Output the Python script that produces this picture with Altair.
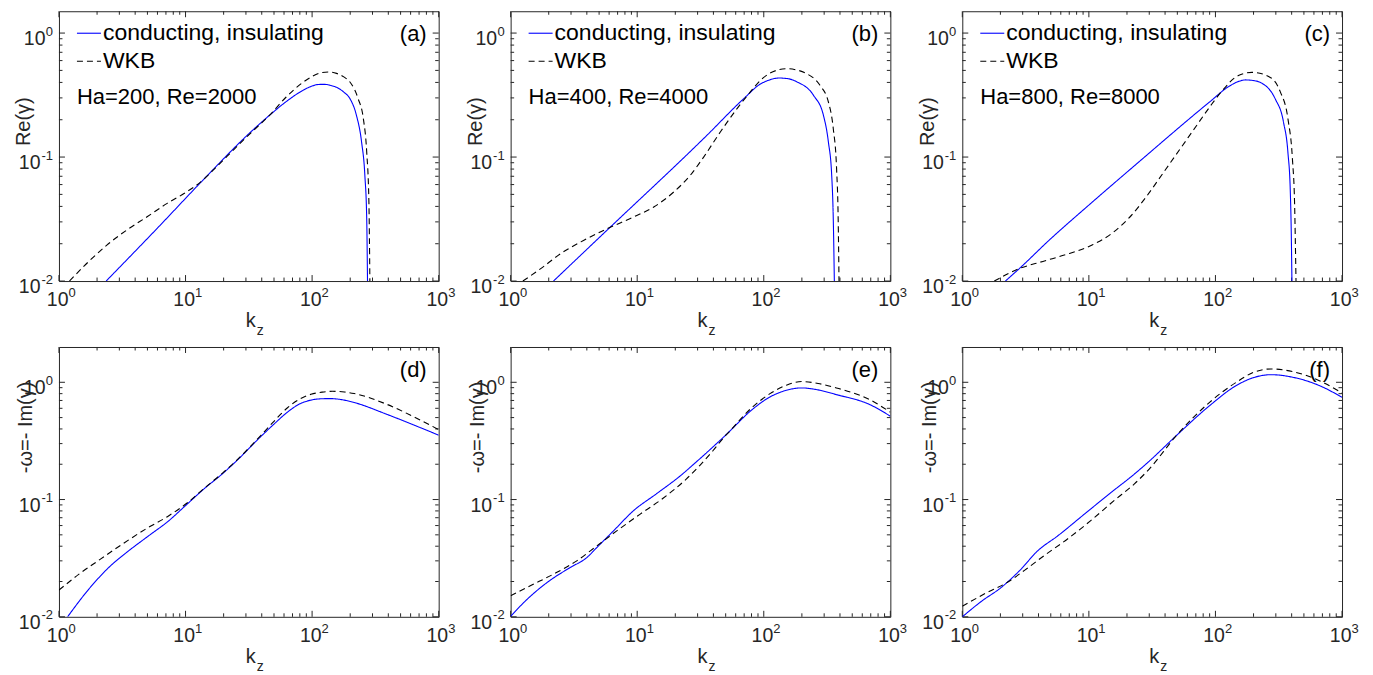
import altair as alt
import pandas as pd

FONT = "Liberation Sans"
INK = "#262626"
BLUE = "#0000ff"
W, H = 380, 270
SERIES = ["conducting, insulating", "WKB"]

# ---------------- data ----------------
# (a) Ha=200, Re=2000 : Re(gamma)
A_COND_K = [2.36, 5.97, 13.2, 32.9, 46.0, 62.4, 84.5, 100, 112, 125, 138, 156, 178, 199, 224, 246, 261, 270, 274]
A_COND_V = [0.0100, 0.0266, 0.0625, 0.160, 0.217, 0.280, 0.345, 0.374, 0.385, 0.386, 0.380, 0.365, 0.334, 0.296, 0.217, 0.132, 0.0714, 0.0320, 0.0100]
A_WKB_K = [1.21, 1.71, 2.39, 3.44, 4.97, 7.16, 9.73, 13.2, 17.9, 24.3, 32.9, 46.0, 62.4, 84.5, 100, 118, 135, 156, 178, 199, 231, 254, 270, 281, 286]
A_WKB_V = [0.0100, 0.0143, 0.0195, 0.0258, 0.0330, 0.0423, 0.0508, 0.0631, 0.0850, 0.116, 0.157, 0.217, 0.305, 0.400, 0.447, 0.479, 0.486, 0.473, 0.443, 0.403, 0.296, 0.204, 0.110, 0.0435, 0.0100]

# (b) Ha=400, Re=4000 : Re(gamma)
B_COND_K = [2.18, 5.82, 35.6, 69.5, 94.0, 112, 131, 155, 182, 247, 296, 324, 344, 354, 361]
B_COND_V = [0.0100, 0.0259, 0.150, 0.296, 0.388, 0.420, 0.434, 0.429, 0.405, 0.315, 0.217, 0.132, 0.0714, 0.0320, 0.0100]
B_WKB_K = [1.25, 1.74, 2.50, 3.59, 5.82, 9.44, 13.6, 19.5, 26.3, 33.5, 45.5, 61.5, 78.3, 95, 112, 130, 152, 180, 219, 278, 324, 354, 376, 387, 393]
B_WKB_V = [0.0100, 0.01265, 0.0167, 0.0207, 0.0265, 0.0330, 0.0397, 0.0524, 0.0714, 0.100, 0.160, 0.246, 0.335, 0.420, 0.475, 0.505, 0.516, 0.505, 0.470, 0.379, 0.278, 0.170, 0.0807, 0.0320, 0.0100]

# (c) Ha=800, Re=8000 : Re(gamma)
C_COND_K = [2.19, 2.82, 5.01, 10.0, 25.1, 90.2, 127, 150, 172, 200, 233, 296, 345, 374, 390, 397, 402]
C_COND_V = [0.0100, 0.0126, 0.0220, 0.0410, 0.0922, 0.279, 0.370, 0.405, 0.419, 0.414, 0.394, 0.296, 0.191, 0.108, 0.0541, 0.0254, 0.0100]
C_WKB_K = [1.79, 2.82, 4.33, 7.03, 10.8, 15.5, 21.0, 28.4, 38.5, 52.2, 70.8, 90.2, 112, 152, 194, 263, 325, 374, 406, 422, 433]
C_WKB_V = [0.0100, 0.0126, 0.0144, 0.0167, 0.0197, 0.0246, 0.0327, 0.0478, 0.0741, 0.115, 0.179, 0.254, 0.339, 0.455, 0.482, 0.447, 0.337, 0.203, 0.0953, 0.0421, 0.0100]

# (d) Ha=200, Re=2000 : -omega = -Im(gamma)
D_COND_K = [1.17, 1.72, 2.47, 3.55, 5.09, 7.33, 9.91, 14.2, 19.2, 25.2, 39.6, 50.0, 64.3, 80.0, 98.0, 120, 141, 170, 215, 393, 718, 1000]
D_COND_V = [0.0100, 0.0172, 0.0263, 0.0365, 0.0489, 0.0656, 0.0880, 0.125, 0.163, 0.213, 0.347, 0.440, 0.560, 0.655, 0.705, 0.724, 0.726, 0.712, 0.672, 0.531, 0.410, 0.354]
D_WKB_K = [1.0, 1.44, 2.06, 3.15, 4.80, 7.33, 10.5, 14.2, 19.2, 25.2, 39.6, 50.0, 64.3, 80.0, 98.0, 120, 145, 180, 215, 393, 718, 1000]
D_WKB_V = [0.0169, 0.0231, 0.0303, 0.0415, 0.0557, 0.0724, 0.0950, 0.126, 0.165, 0.215, 0.355, 0.465, 0.610, 0.720, 0.790, 0.825, 0.838, 0.826, 0.802, 0.646, 0.475, 0.395]

# (e) Ha=400, Re=4000 : -omega
E_COND_K = [1.0, 1.35, 1.99, 2.95, 4.00, 4.79, 6.49, 9.31, 14.2, 21.7, 29.4, 39.8, 48.0, 54.1, 79.4, 112, 151, 199, 269, 375, 687, 1000]
E_COND_V = [0.0101, 0.0141, 0.0200, 0.0263, 0.0320, 0.0389, 0.0540, 0.0800, 0.112, 0.158, 0.210, 0.282, 0.340, 0.385, 0.575, 0.750, 0.855, 0.895, 0.861, 0.785, 0.646, 0.514]
E_WKB_K = [1.0, 1.43, 2.18, 3.33, 4.79, 6.89, 10.5, 16.1, 24.5, 31.3, 39.8, 48.0, 54.1, 79.4, 112, 151, 199, 269, 375, 687, 1000]
E_WKB_V = [0.0151, 0.0184, 0.0231, 0.0300, 0.0402, 0.0540, 0.0748, 0.103, 0.150, 0.196, 0.262, 0.335, 0.385, 0.600, 0.800, 0.945, 1.015, 0.977, 0.895, 0.711, 0.556]

# (f) Ha=800, Re=8000 : -omega
F_COND_K = [1.0, 1.41, 2.03, 2.83, 3.95, 5.69, 9.23, 15.0, 22.9, 29.2, 49.1, 89.9, 146, 200, 275, 408, 662, 1000]
F_COND_V = [0.0100, 0.0135, 0.0178, 0.0247, 0.0366, 0.0491, 0.0752, 0.115, 0.165, 0.207, 0.351, 0.632, 0.938, 1.096, 1.161, 1.104, 0.938, 0.745]
F_WKB_K = [1.0, 1.50, 2.29, 3.10, 4.46, 6.82, 10.4, 15.9, 22.9, 30.1, 49.1, 89.9, 146, 200, 275, 408, 662, 1000]
F_WKB_V = [0.0123, 0.0157, 0.0198, 0.0249, 0.0334, 0.0463, 0.0664, 0.0984, 0.136, 0.183, 0.351, 0.675, 1.0, 1.216, 1.300, 1.233, 1.033, 0.811]

# axis ticks and their labels (10^e)
X_MAJOR = [1, 10, 100, 1000]
X_EXP = ["0", "1", "2", "3"]
X_MINOR = [m * d for d in (1, 10, 100) for m in range(2, 10)]
Y_MAJOR = [0.01, 0.1, 1]
Y_EXP = ["-2", "-1", "0"]
Y_MINOR = [m * d for d in (0.01, 0.1) for m in range(2, 10)]

PANELS = [
    dict(tag="(a)", note="Ha=200, Re=2000", ytitle="Re(\u03b3)", ymax=1.5, ty=110, tx=-35,
         ck=A_COND_K, cv=A_COND_V, wk=A_WKB_K, wv=A_WKB_V, legend=True),
    dict(tag="(b)", note="Ha=400, Re=4000", ytitle="Re(\u03b3)", ymax=1.5, ty=110, tx=-35,
         ck=B_COND_K, cv=B_COND_V, wk=B_WKB_K, wv=B_WKB_V, legend=True),
    dict(tag="(c)", note="Ha=800, Re=8000", ytitle="Re(\u03b3)", ymax=1.5, ty=110, tx=-35,
         ck=C_COND_K, cv=C_COND_V, wk=C_WKB_K, wv=C_WKB_V, legend=True),
    dict(tag="(d)", note=None, ytitle="-\u03c9=- Im(\u03b3)", ymax=2.0, ty=80, tx=-33,
         ck=D_COND_K, cv=D_COND_V, wk=D_WKB_K, wv=D_WKB_V, legend=False),
    dict(tag="(e)", note=None, ytitle="-\u03c9=- Im(\u03b3)", ymax=2.0, ty=80, tx=-33,
         ck=E_COND_K, cv=E_COND_V, wk=E_WKB_K, wv=E_WKB_V, legend=False),
    dict(tag="(f)", note=None, ytitle="-\u03c9=- Im(\u03b3)", ymax=2.0, ty=80, tx=-33,
         ck=F_COND_K, cv=F_COND_V, wk=F_WKB_K, wv=F_WKB_V, legend=False),
]


def one_text(txt):
    return alt.Chart(pd.DataFrame({"t": [txt]}))


def make_panel(p):
    df = pd.concat([
        pd.DataFrame({"kz": p["ck"], "val": p["cv"], "series": SERIES[0]}),
        pd.DataFrame({"kz": p["wk"], "val": p["wv"], "series": SERIES[1]}),
    ], ignore_index=True)

    xs = alt.Scale(type="log", domain=[1, 1000], nice=False)
    ys = alt.Scale(type="log", domain=[0.01, p["ymax"]], nice=False)
    xaxis = alt.Axis(values=X_MAJOR, labels=False, tickSize=0, domain=False, grid=False, title=None)
    yaxis = alt.Axis(values=Y_MAJOR, labels=False, tickSize=0, domain=False, grid=False,
                     title=p["ytitle"], titleFont=FONT, titleFontSize=20, titleFontWeight="normal",
                     titleColor=INK, titleX=p["tx"], titleY=p["ty"], titleAngle=270,
                     titleAlign="center", titleBaseline="middle")
    X = lambda f: alt.X(f, scale=xs, axis=xaxis)
    Y = lambda f: alt.Y(f, scale=ys, axis=yaxis)

    layers = []
    # inward tick marks on all four sides
    for vals, ln in ((X_MAJOR, 6), (X_MINOR, 3.5)):
        tdf = pd.DataFrame({"t": vals})
        layers.append(alt.Chart(tdf).mark_rule(color=INK, strokeWidth=1).encode(
            x=X("t:Q"), y=alt.value(H), y2=alt.value(H - ln)))
        layers.append(alt.Chart(tdf).mark_rule(color=INK, strokeWidth=1).encode(
            x=X("t:Q"), y=alt.value(0), y2=alt.value(ln)))
    for vals, ln in ((Y_MAJOR, 6), (Y_MINOR, 3.5)):
        tdf = pd.DataFrame({"t": vals})
        layers.append(alt.Chart(tdf).mark_rule(color=INK, strokeWidth=1).encode(
            y=Y("t:Q"), x=alt.value(0), x2=alt.value(ln)))
        layers.append(alt.Chart(tdf).mark_rule(color=INK, strokeWidth=1).encode(
            y=Y("t:Q"), x=alt.value(W), x2=alt.value(W - ln)))

    # tick labels 10^e  (base and raised exponent)
    xl = pd.DataFrame({"t": X_MAJOR, "e": X_EXP})
    layers.append(alt.Chart(xl).mark_text(align="right", baseline="alphabetic", dx=9.5, font=FONT,
                                          fontSize=19.5, color=INK)
                  .encode(x=X("t:Q"), y=alt.value(H + 25), text=alt.value("10")))
    layers.append(alt.Chart(xl).mark_text(align="left", baseline="alphabetic", dx=9.5, font=FONT,
                                          fontSize=13, color=INK)
                  .encode(x=X("t:Q"), y=alt.value(H + 16), text="e:N"))
    yl = pd.DataFrame({"t": Y_MAJOR, "e": Y_EXP})
    yl_pos = yl[yl["t"] >= 1]
    yl_neg = yl[yl["t"] < 1]
    layers.append(alt.Chart(yl_pos).mark_text(align="right", baseline="alphabetic", dy=12, font=FONT,
                                              fontSize=19.5, color=INK)
                  .encode(y=Y("t:Q"), x=alt.value(-13.5), text=alt.value("10")))
    layers.append(alt.Chart(yl_neg).mark_text(align="right", baseline="alphabetic", dy=12, font=FONT,
                                              fontSize=19.5, color=INK)
                  .encode(y=Y("t:Q"), x=alt.value(-18.5), text=alt.value("10")))
    layers.append(alt.Chart(yl).mark_text(align="right", baseline="alphabetic", dy=2.5, font=FONT,
                                          fontSize=13, color=INK)
                  .encode(y=Y("t:Q"), x=alt.value(-6), text="e:N"))

    lines = alt.Chart(df).mark_line(strokeWidth=1.1, interpolate="monotone", clip=True).encode(
        x=X("kz:Q"),
        y=Y("val:Q"),
        color=alt.Color("series:N", scale=alt.Scale(domain=SERIES, range=[BLUE, "#000000"]), legend=None),
        strokeDash=alt.StrokeDash("series:N", scale=alt.Scale(domain=SERIES, range=[[1, 0], [6, 4]]), legend=None),
        detail="series:N",
    )
    layers.append(lines)

    # x-axis title k_z
    layers.append(one_text("k").mark_text(align="right", baseline="alphabetic", font=FONT, fontSize=20, color=INK)
                  .encode(text="t:N", x=alt.value(W / 2 + 7), y=alt.value(H + 46)))
    layers.append(one_text("z").mark_text(align="left", baseline="alphabetic", font=FONT, fontSize=14, color=INK)
                  .encode(text="t:N", x=alt.value(W / 2 + 8), y=alt.value(H + 54)))

    # panel tag
    layers.append(one_text(p["tag"]).mark_text(align="right", baseline="middle", font=FONT, fontSize=22, color="black")
                  .encode(text="t:N", x=alt.value(W - 12), y=alt.value(23)))

    if p["legend"]:
        layers.append(one_text(SERIES[0]).mark_rule(color=BLUE, strokeWidth=1.1)
                      .encode(x=alt.value(18), x2=alt.value(42), y=alt.value(22)))
        layers.append(one_text(SERIES[1]).mark_rule(color="black", strokeWidth=1.1, strokeDash=[6, 4])
                      .encode(x=alt.value(18), x2=alt.value(42), y=alt.value(50)))
        layers.append(one_text(SERIES[0]).mark_text(align="left", baseline="middle", font=FONT, fontSize=23, color="black")
                      .encode(text="t:N", x=alt.value(44), y=alt.value(22)))
        layers.append(one_text(SERIES[1]).mark_text(align="left", baseline="middle", font=FONT, fontSize=23, color="black")
                      .encode(text="t:N", x=alt.value(44), y=alt.value(50)))
        layers.append(one_text(p["note"]).mark_text(align="left", baseline="middle", font=FONT, fontSize=22, color="black")
                      .encode(text="t:N", x=alt.value(18), y=alt.value(86)))

    return alt.layer(*layers).properties(width=W, height=H)


chart = alt.concat(*[make_panel(p) for p in PANELS], columns=3,
                   spacing={"row": 66, "column": 72}, bounds="flush").properties(
    padding={"left": 5, "top": 2, "right": 5, "bottom": 2},
    background="white",
).configure_view(stroke=INK, strokeWidth=1)

chart.save("out.html", embed_options={"renderer": "svg", "actions": False})
